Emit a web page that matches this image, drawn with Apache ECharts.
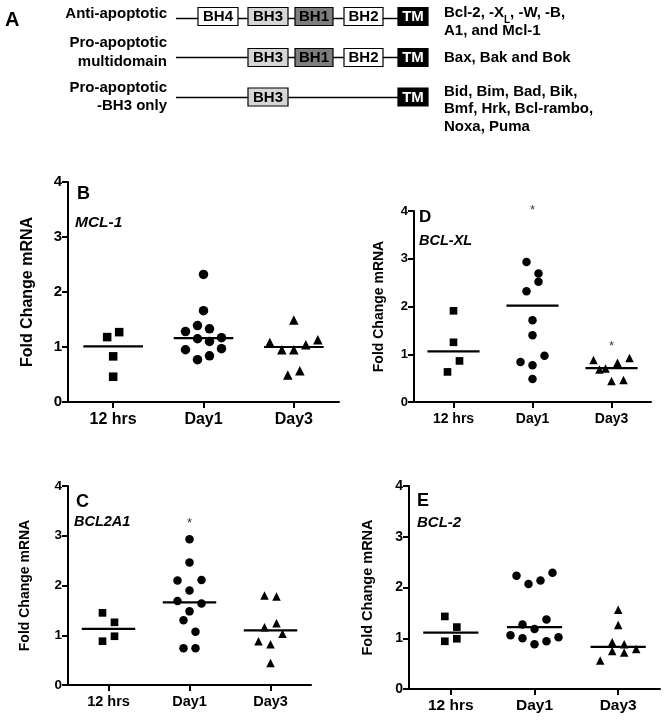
<!DOCTYPE html>
<html><head><meta charset="utf-8">
<script src="https://cdn.jsdelivr.net/npm/echarts@6.0.0/dist/echarts.min.js"></script>
<style>html,body{margin:0;padding:0;background:#fff}#main{width:664px;height:720px}</style>
</head><body><div id="main"></div>
<script>
// ---------- DATA ----------
const categories = ['12 hrs', 'Day1', 'Day3'];
const yTickLabels = ['0', '1', '2', '3', '4'];

// Panel A (schematic)
const familyNames = ['Anti-apoptotic', 'Pro-apoptotic\nmultidomain', 'Pro-apoptotic\n-BH3 only'];
const familyDomains = [['BH4', 'BH3', 'BH1', 'BH2', 'TM'], ['BH3', 'BH1', 'BH2', 'TM'], ['BH3', 'TM']];
const familyMembers = ['Bcl-2, -X{sub|L}, -W, -B,\nA1, and Mcl-1', 'Bax, Bak and Bok', 'Bid, Bim, Bad, Bik,\nBmf, Hrk, Bcl-rambo,\nNoxa, Puma'];

// Panel B : MCL-1
const mcl1_12h = [1.18, 1.27, 0.83, 0.46];
const mcl1_day1 = [0.95, 0.77, 0.84, 0.97, 1.28, 1.15, 1.10, 1.17, 1.39, 1.33, 1.66, 2.32];
const mcl1_day3 = [1.08, 0.95, 0.95, 1.04, 1.13, 1.49, 0.49, 0.57];
const mcl1_lines = [1.01, 1.16, 1.00];
const mcl1_stars = [null, null, null];

// Panel D : BCL-XL
const bclxl_12h = [1.91, 1.25, 0.63, 0.86];
const bclxl_day1 = [2.93, 2.69, 2.32, 2.52, 1.71, 1.40, 0.84, 0.77, 0.97, 0.48];
const bclxl_day3 = [0.88, 0.68, 0.70, 0.82, 0.92, 0.44, 0.46];
const bclxl_lines = [1.06, 2.02, 0.71];
const bclxl_stars = [null, 4.08, 1.23];

// Panel C : BCL2A1
const bcl2a1_12h = [1.45, 1.26, 0.88, 0.98];
const bcl2a1_day1 = [2.93, 2.46, 2.10, 1.90, 2.11, 1.69, 1.48, 1.64, 1.30, 1.07, 0.74, 0.74];
const bcl2a1_day3 = [1.80, 1.78, 1.16, 1.24, 0.88, 0.82, 1.03, 0.44];
const bcl2a1_lines = [1.13, 1.66, 1.10];
const bcl2a1_stars = [null, 3.30, null];

// Panel E : BCL-2
const bcl2_12h = [1.43, 1.22, 0.94, 0.99];
const bcl2_day1 = [2.23, 2.07, 2.14, 2.29, 1.27, 1.18, 1.37, 1.06, 1.00, 0.88, 0.94, 1.02];
const bcl2_day3 = [1.56, 1.26, 0.56, 0.75, 0.72, 0.79, 0.92, 0.88];
const bcl2_lines = [1.11, 1.22, 0.83];
const bcl2_stars = [null, null, null];

// ---------- LAYOUT / STYLE ----------
const FONT = '"Liberation Sans", Arial, Helvetica, sans-serif';
const groupSymbols = ['rect', 'circle', 'triangle'];
const groupSymScale = [0.9, 1.0, 1.0];
const ROW_PX = 12;   // vertical closeness (px) for sharing a row in the column scatter
const STEP_PX = 12;  // horizontal spacing (px) between points in one row

const panels = [
  { letter: 'B', gene: 'MCL-1', groups: [mcl1_12h, mcl1_day1, mcl1_day3], lines: mcl1_lines, stars: mcl1_stars,
    box: { left: 68, top: 182, width: 271, height: 220 }, sym: 9.5, tickFs: 15, catFs: 16, nameFs: 16, nameGap: 32, catMargin: 10,
    letterFs: 18, geneFs: 15.5, letterPos: [77, 194], genePos: [75, 223] },
  { letter: 'D', gene: 'BCL-XL', groups: [bclxl_12h, bclxl_day1, bclxl_day3], lines: bclxl_lines, stars: bclxl_stars,
    box: { left: 414, top: 211, width: 237, height: 191 }, sym: 8.5, tickFs: 13, catFs: 14, nameFs: 14, nameGap: 28, catMargin: 10,
    letterFs: 17, geneFs: 14.5, letterPos: [419, 217.5], genePos: [419, 240.7] },
  { letter: 'C', gene: 'BCL2A1', groups: [bcl2a1_12h, bcl2a1_day1, bcl2a1_day3], lines: bcl2a1_lines, stars: bcl2a1_stars,
    box: { left: 68, top: 486, width: 243, height: 199 }, sym: 8.5, tickFs: 13.5, catFs: 14.5, nameFs: 14, nameGap: 36, catMargin: 9,
    letterFs: 18, geneFs: 14.5, letterPos: [76, 501.7], genePos: [74, 521.7] },
  { letter: 'E', gene: 'BCL-2', groups: [bcl2_12h, bcl2_day1, bcl2_day3], lines: bcl2_lines, stars: bcl2_stars,
    box: { left: 409, top: 486, width: 251, height: 203 }, sym: 8.5, tickFs: 14, catFs: 15.5, nameFs: 14.5, nameGap: 34, catMargin: 9,
    letterFs: 18, geneFs: 15, letterPos: [417, 501], genePos: [417, 522.7] }
];

// Column-scatter layout (rows of near-equal values spread symmetrically)
function swarm(values, rowH, step) {
  const idx = values.map((v, i) => i).sort((a, b) => values[a] - values[b]);
  const off = new Array(values.length).fill(0);
  let k = 0;
  while (k < idx.length) {
    const start = values[idx[k]];
    const row = [];
    while (k < idx.length && values[idx[k]] - start <= rowH + 1e-9) { row.push(idx[k]); k++; }
    row.sort((a, b) => a - b);
    row.forEach((id, j) => { off[id] = (j - (row.length - 1) / 2) * step; });
  }
  return off;
}

const grids = [], xAxes = [], yAxes = [], series = [], graphics = [];

panels.forEach((p, pi) => {
  grids.push({ left: p.box.left, top: p.box.top, width: p.box.width, height: p.box.height, containLabel: false });
  // visible category axis
  xAxes.push({
    type: 'category', gridIndex: pi, data: categories, boundaryGap: true,
    axisLine: { show: true, onZero: false, lineStyle: { color: '#000', width: 2 } },
    axisTick: { show: true, alignWithLabel: true, length: 6, lineStyle: { color: '#000', width: 2 } },
    axisLabel: { color: '#000', fontWeight: 'bold', fontSize: p.catFs, fontFamily: FONT, margin: p.catMargin },
    splitLine: { show: false }
  });
  // hidden value axis used to place points
  xAxes.push({ type: 'value', gridIndex: pi, min: -0.5, max: 2.5, show: false, axisLine: { onZero: false }, splitLine: { show: false } });
  yAxes.push({
    type: 'value', gridIndex: pi, min: 0, max: 4, interval: 1,
    name: 'Fold Change mRNA', nameLocation: 'middle', nameRotate: 90, nameGap: p.nameGap,
    nameTextStyle: { color: '#000', fontWeight: 'bold', fontSize: p.nameFs, fontFamily: FONT },
    axisLine: { show: true, onZero: false, lineStyle: { color: '#000', width: 2 } },
    axisTick: { show: true, length: 6, lineStyle: { color: '#000', width: 2 } },
    axisLabel: { color: '#000', fontWeight: 'bold', fontSize: p.tickFs, fontFamily: FONT, margin: 6,
      formatter: v => yTickLabels[Math.round(v)] },
    splitLine: { show: false }
  });
  const bandPx = p.box.width / categories.length;
  const unitPx = p.box.height / 4;
  const rowH = ROW_PX / unitPx;
  const step = STEP_PX / bandPx;
  p.groups.forEach((vals, gi) => {
    const offs = swarm(vals, rowH, step);
    series.push({
      type: 'scatter', xAxisIndex: pi * 2 + 1, yAxisIndex: pi, clip: false,
      symbol: groupSymbols[gi], symbolSize: p.sym * groupSymScale[gi],
      itemStyle: { color: '#000', opacity: 1 },
      data: vals.map((v, i) => [gi + offs[i], v]), z: 3
    });
    series.push({
      type: 'line', xAxisIndex: pi * 2 + 1, yAxisIndex: pi, symbol: 'none', clip: false,
      lineStyle: { color: '#000', width: 2.2 },
      data: [[gi - 0.33, p.lines[gi]], [gi + 0.33, p.lines[gi]]], z: 2
    });
  });
  const starData = [];
  p.stars.forEach((s, gi) => { if (s !== null) starData.push([gi, s]); });
  if (starData.length) {
    series.push({
      type: 'scatter', xAxisIndex: pi * 2 + 1, yAxisIndex: pi, clip: false, symbolSize: 2,
      itemStyle: { color: 'rgba(0,0,0,0)' },
      label: { show: true, position: 'inside', formatter: '*', color: '#000', fontSize: 13, fontFamily: FONT, offset: [0, 3] },
      data: starData, z: 4
    });
  }
  graphics.push({ type: 'text', x: p.letterPos[0], y: p.letterPos[1],
    style: { text: p.letter, fill: '#000', font: 'bold ' + p.letterFs + 'px ' + FONT, align: 'left', verticalAlign: 'middle', textAlign: 'left', textVerticalAlign: 'middle' } });
  graphics.push({ type: 'text', x: p.genePos[0], y: p.genePos[1],
    style: { text: p.gene, fill: '#000', font: 'italic bold ' + p.geneFs + 'px ' + FONT, align: 'left', verticalAlign: 'middle', textAlign: 'left', textVerticalAlign: 'middle' } });
});

// ---------- Panel A schematic ----------
const domainGeom = { BH4: [198, 40], BH3: [248, 40], BH1: [295, 38], BH2: [344, 39], TM: [398, 30] };
const domainFill = { BH4: '#ffffff', BH3: '#d6d6d6', BH1: '#7d7d7d', BH2: '#ffffff', TM: '#000000' };
const domainText = { BH4: '#000', BH3: '#000', BH1: '#000', BH2: '#000', TM: '#fff' };
const rowCenter = [16.5, 57.5, 97];
const rowLineY = [18.5, 57.5, 97.5];
const labelTop = [5, 34, 78.5];
const memberTop = [4.5, 49.5, 83];

graphics.push({ type: 'text', x: 5, y: 20,
  style: { text: 'A', fill: '#000', font: 'bold 20px ' + FONT, align: 'left', verticalAlign: 'middle', textAlign: 'left', textVerticalAlign: 'middle' } });

familyNames.forEach((name, r) => {
  graphics.push({ type: 'text', x: 167, y: labelTop[r],
    style: { text: name, fill: '#000', font: 'bold 15px ' + FONT, align: 'right', verticalAlign: 'top', textAlign: 'right', textVerticalAlign: 'top', lineHeight: 18.5 } });
  graphics.push({ type: 'line', shape: { x1: 176, y1: rowLineY[r], x2: 400, y2: rowLineY[r] }, style: { stroke: '#000', lineWidth: 1.3 } });
  familyDomains[r].forEach(d => {
    const g = domainGeom[d];
    graphics.push({ type: 'rect', shape: { x: g[0], y: rowCenter[r] - 9, width: g[1], height: 18 },
      style: { fill: domainFill[d], stroke: '#000', lineWidth: 1.2 } });
    graphics.push({ type: 'text', x: g[0] + g[1] / 2, y: rowCenter[r] + 0.5,
      style: { text: d, fill: domainText[d], font: 'bold 15px ' + FONT, align: 'center', verticalAlign: 'middle', textAlign: 'center', textVerticalAlign: 'middle' } });
  });
  graphics.push({ type: 'text', x: 444, y: memberTop[r],
    style: { text: familyMembers[r], fill: '#000', font: 'bold 15px ' + FONT, align: 'left', verticalAlign: 'top', textAlign: 'left', textVerticalAlign: 'top', lineHeight: 17.5,
      rich: { sub: { fontSize: 10, fontWeight: 'bold', fontFamily: FONT, fill: '#000', color: '#000', verticalAlign: 'bottom', lineHeight: 12, padding: [0, 0, -3, 0] } } } });
});

const chart = echarts.init(document.getElementById('main'), null, { renderer: 'canvas', width: 664, height: 720 });
chart.setOption({
  backgroundColor: '#ffffff',
  animation: false,
  textStyle: { fontFamily: FONT },
  grid: grids, xAxis: xAxes, yAxis: yAxes, series: series,
  graphic: { elements: graphics }
});
</script></body></html>
